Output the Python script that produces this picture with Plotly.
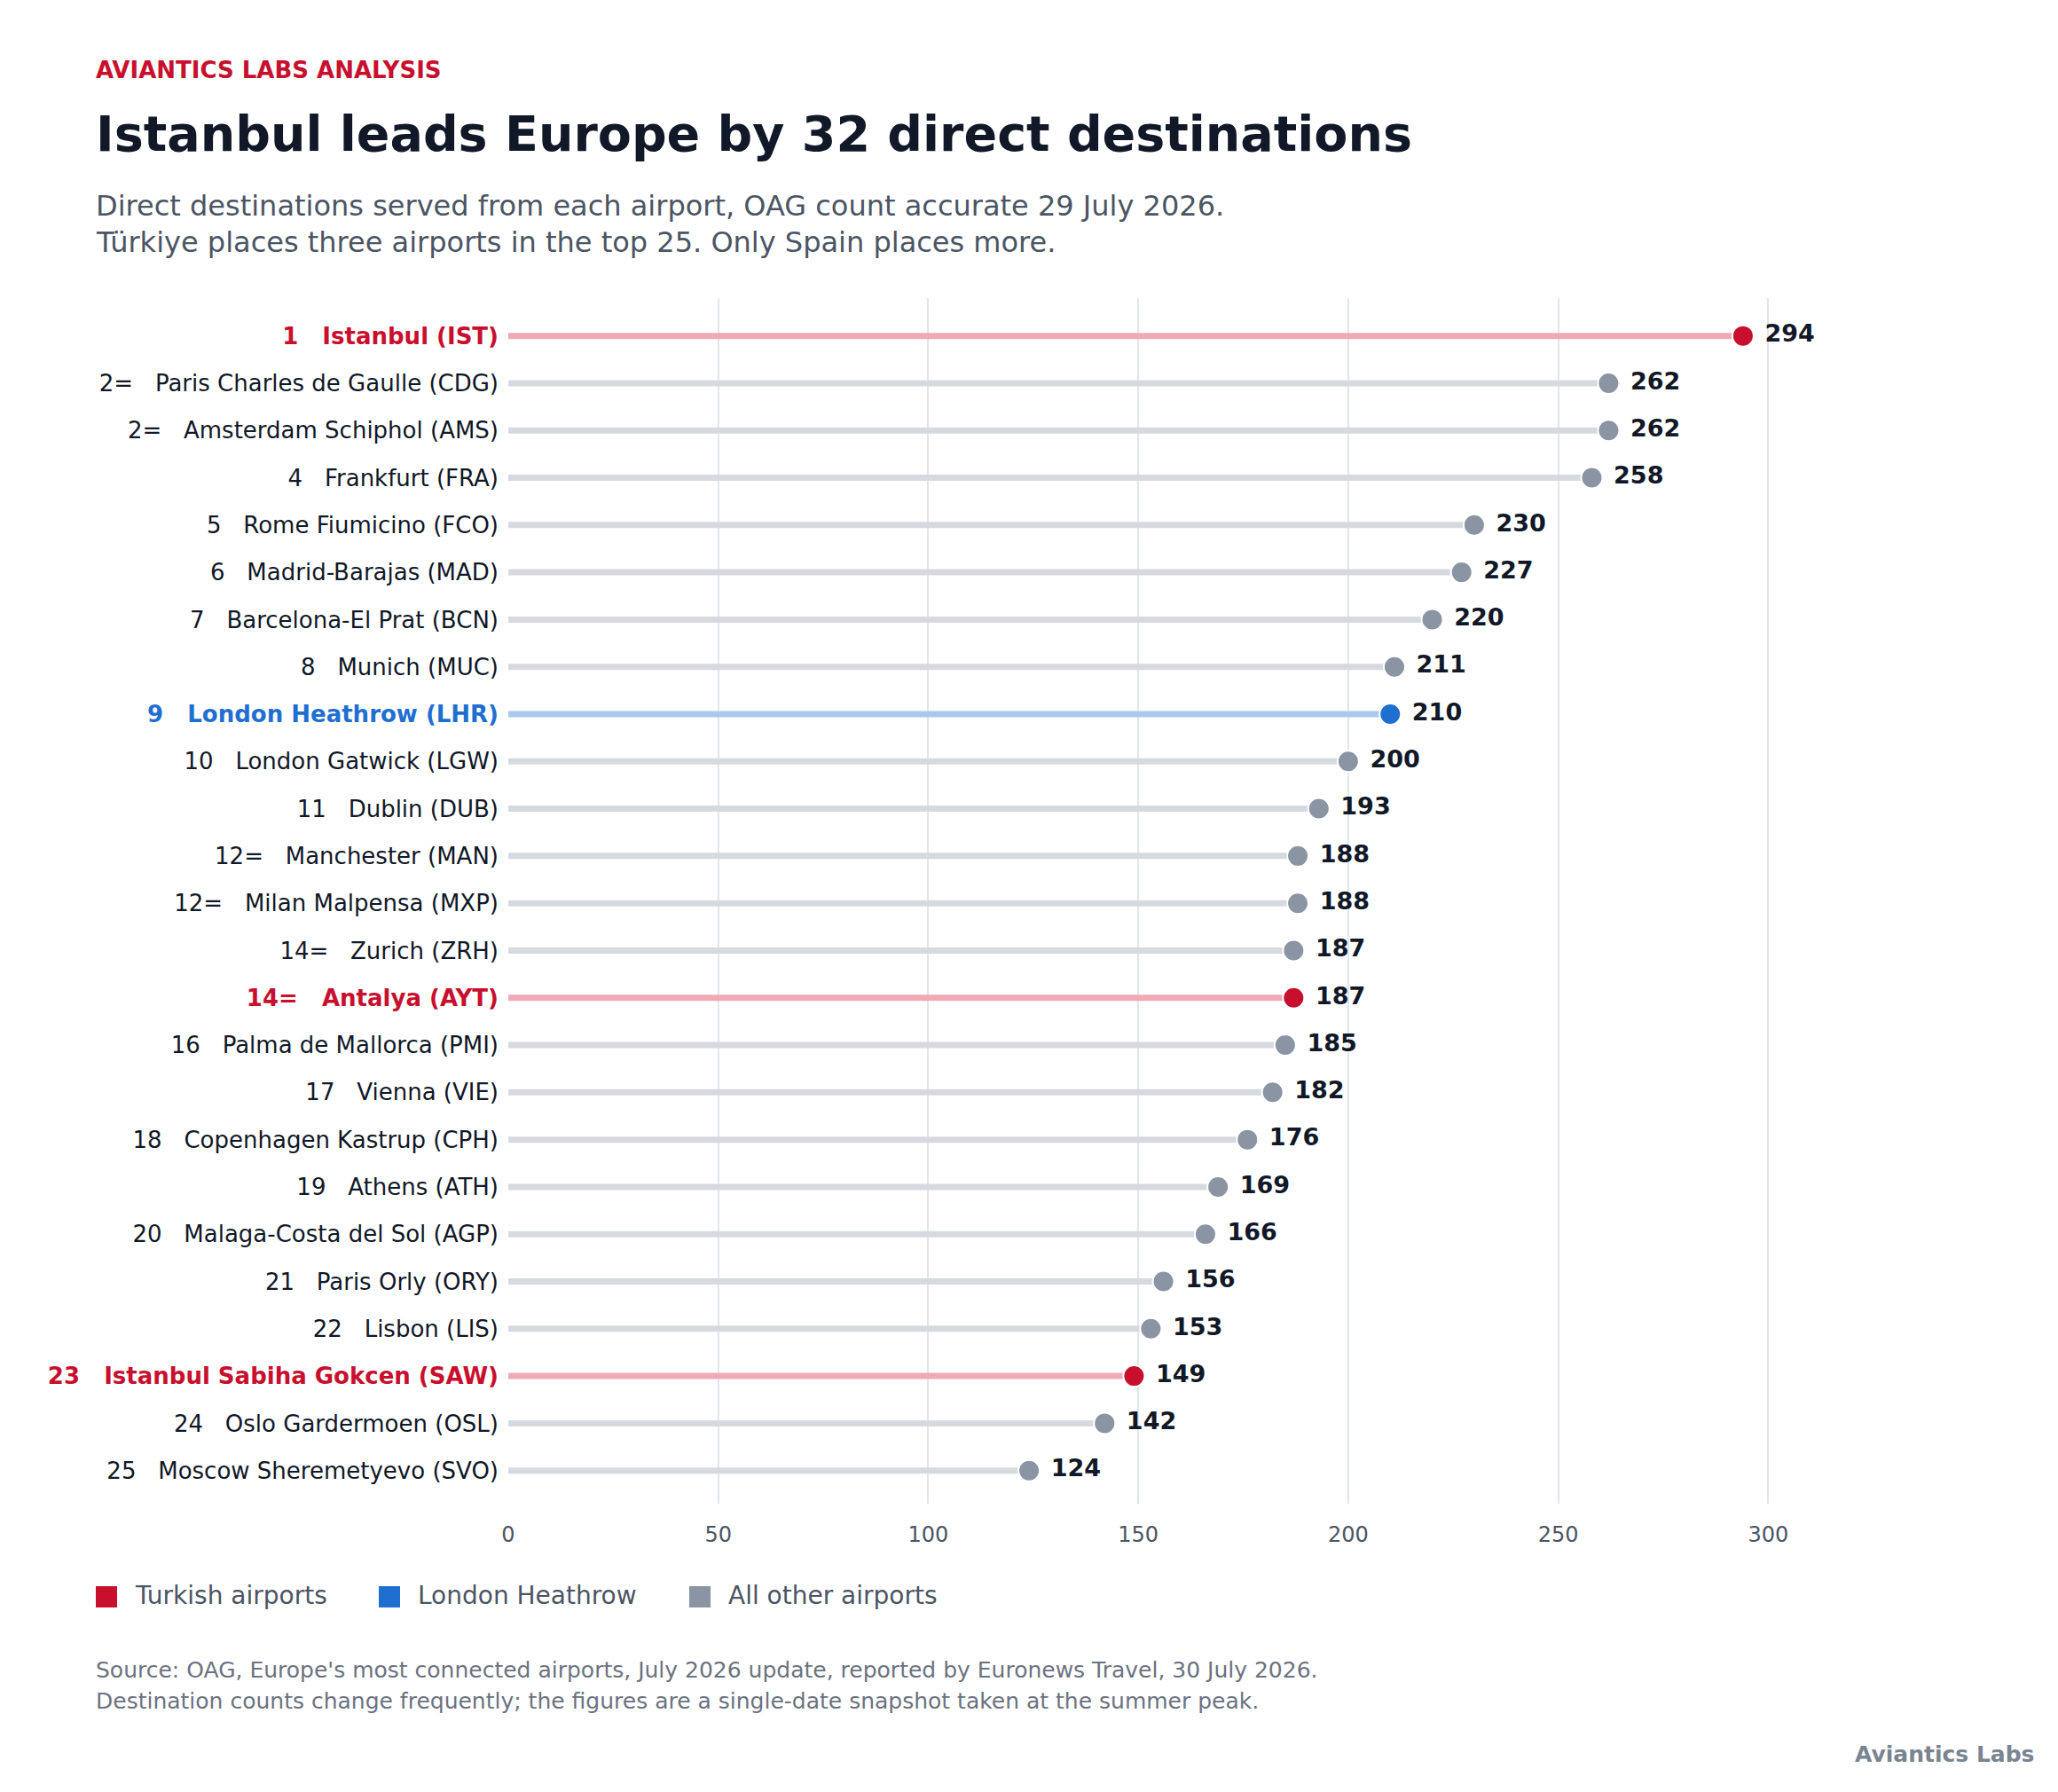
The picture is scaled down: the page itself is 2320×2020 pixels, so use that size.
import plotly.graph_objects as go

ranks = ["1","2=","2=","4","5","6","7","8","9","10","11","12=","12=","14=","14=","16","17","18","19","20","21","22","23","24","25"]
airports = ["Istanbul (IST)","Paris Charles de Gaulle (CDG)","Amsterdam Schiphol (AMS)","Frankfurt (FRA)",
            "Rome Fiumicino (FCO)","Madrid-Barajas (MAD)","Barcelona-El Prat (BCN)","Munich (MUC)",
            "London Heathrow (LHR)","London Gatwick (LGW)","Dublin (DUB)","Manchester (MAN)",
            "Milan Malpensa (MXP)","Zurich (ZRH)","Antalya (AYT)","Palma de Mallorca (PMI)","Vienna (VIE)",
            "Copenhagen Kastrup (CPH)","Athens (ATH)","Malaga-Costa del Sol (AGP)","Paris Orly (ORY)",
            "Lisbon (LIS)","Istanbul Sabiha Gokcen (SAW)","Oslo Gardermoen (OSL)","Moscow Sheremetyevo (SVO)"]
values = [294,262,262,258,230,227,220,211,210,200,193,188,188,187,187,185,182,176,169,166,156,153,149,142,124]
groups = ["tr","o","o","o","o","o","o","o","lhr","o","o","o","o","o","tr","o","o","o","o","o","o","o","tr","o","o"]

RED, BLUE, GREY = "#c8102e", "#1f6fd1", "#8a94a3"
mark_col = {"tr": RED, "lhr": BLUE, "o": GREY}
line_col = {"tr": "#efaab6", "lhr": "#a9c9ee", "o": "#d6dae0"}
FONT = "DejaVu Sans"

W, H = 2320, 2020
L, T, B, R = 565, 328, 333, 240
pw, ph = W - L - R, H - T - B
DX, DY = -10, -8
def px(x): return (x + DX - L) / pw
def py(y): return (H - B - (y + DY)) / ph

fig = go.Figure()
ys = list(range(len(values)))
for g in ["o", "lhr", "tr"]:
    xs, yy = [], []
    for i, v in enumerate(values):
        if groups[i] == g:
            xs += [0, v, None]; yy += [i, i, None]
    fig.add_trace(go.Scatter(x=xs, y=yy, mode="lines", line=dict(color=line_col[g], width=7),
                             hoverinfo="skip", showlegend=False))
for g in ["o", "lhr", "tr"]:
    idx = [i for i in ys if groups[i] == g]
    fig.add_trace(go.Scatter(
        x=[values[i] for i in idx], y=idx, mode="markers+text",
        marker=dict(color=mark_col[g], size=24, line=dict(color="white", width=2)),
        text=["\u00a0<b>%d</b>" % values[i] for i in idx], textposition="middle right",
        textfont=dict(family=FONT, size=27, color="#111827"), showlegend=False))

ticktext = []
for r, a, g in zip(ranks, airports, groups):
    s = f"{r}\u00a0\u00a0\u00a0{a}"
    if g == "tr":
        s = f"<span style='color:{RED}'><b>{s}</b></span>"
    elif g == "lhr":
        s = f"<span style='color:{BLUE}'><b>{s}</b></span>"
    ticktext.append(s)

fig.update_layout(
    width=W, height=H, margin=dict(l=L, r=R, t=T, b=B),
    paper_bgcolor="white", plot_bgcolor="white",
    font=dict(family=FONT, color="#111827"),
    xaxis=dict(range=[0, 320], tickvals=[0,50,100,150,200,250,300], showgrid=True,
               gridcolor="#e3e6ea", gridwidth=2, zeroline=False, showline=False,
               tickfont=dict(size=24, color="#4b5563"), ticks="", ticklabelstandoff=18),
    yaxis=dict(range=[24.7, -0.8], tickvals=ys, ticktext=ticktext, showgrid=False,
               zeroline=False, showline=False, tickfont=dict(size=26, color="#111827"), ticks="",
               ticklabelstandoff=10),
)

ann = [
    dict(x=108, y=79, text="<b>AVIANTICS LABS ANALYSIS</b>", font=dict(size=26, color=RED)),
    dict(x=108, y=151, text="<b>Istanbul leads Europe by 32 direct destinations</b>", font=dict(size=55.5, color="#111827")),
    dict(x=108, y=232, text="Direct destinations served from each airport, OAG count accurate 29 July 2026.", font=dict(size=32, color="#4b5563")),
    dict(x=108, y=273, text="Türkiye places three airports in the top 25. Only Spain places more.", font=dict(size=32, color="#4b5563")),
    dict(x=108, y=1882, text="Source: OAG, Europe's most connected airports, July 2026 update, reported by Euronews Travel, 30 July 2026.", font=dict(size=25, color="#6b7280")),
    dict(x=108, y=1917, text="Destination counts change frequently; the figures are a single-date snapshot taken at the summer peak.", font=dict(size=25, color="#6b7280")),
]
for a in ann:
    fig.add_annotation(xref="paper", yref="paper", xanchor="left", yanchor="middle", showarrow=False,
                       x=px(a["x"]), y=py(a["y"]), text=a["text"], font=dict(family=FONT, **a["font"]))
fig.add_annotation(xref="paper", yref="paper", xanchor="right", yanchor="middle", showarrow=False,
                   x=px(2298), y=py(1977), text="<b>Aviantics Labs</b>", font=dict(family=FONT, size=25, color="#7b8491"))

leg = [("Turkish airports", RED, 122), ("London Heathrow", BLUE, 441), ("All other airports", GREY, 791)]
for name, col, x0 in leg:
    fig.add_shape(type="rect", xref="paper", yref="paper", x0=px(x0 - 12), x1=px(x0 + 12),
                  y0=py(1800 + 12), y1=py(1800 - 12), fillcolor=col, line=dict(width=0))
    fig.add_annotation(xref="paper", yref="paper", xanchor="left", yanchor="middle", showarrow=False,
                       x=px(x0 + 30), y=py(1798), text=name, font=dict(family=FONT, size=28, color="#4b5563"))

fig.write_html("out.html")
